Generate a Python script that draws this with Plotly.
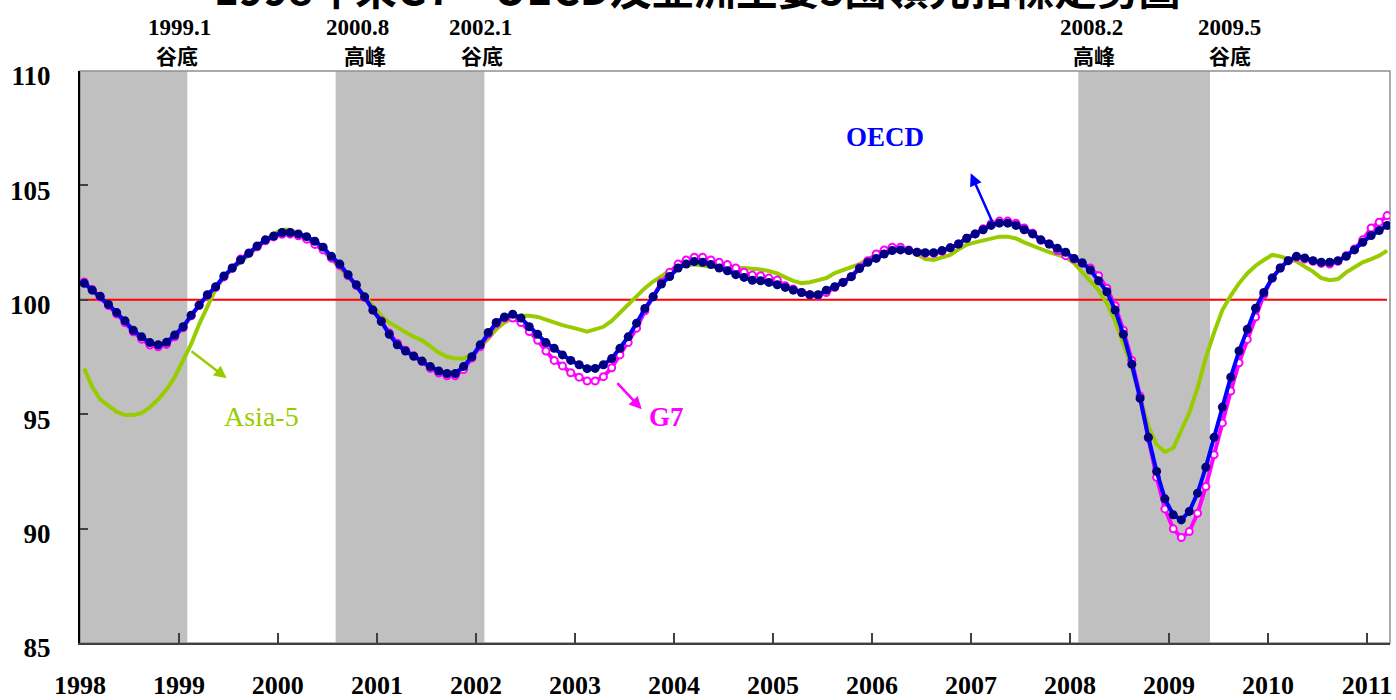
import pandas as pd
import plotly.graph_objects as go

# ---------------- data ----------------
months = pd.date_range("1998-01-01", "2011-03-01", freq="MS")

oecd = [
    100.72, 100.42, 100.16, 99.80, 99.44, 99.08, 98.67, 98.38, 98.13, 98.03, 98.14, 98.46,
    98.82, 99.33, 99.77, 100.22, 100.57, 101.04, 101.39, 101.74, 102.03, 102.35, 102.62, 102.79,
    102.94, 102.94, 102.88, 102.76, 102.56, 102.30, 101.90, 101.56, 101.10, 100.66, 100.13, 99.55,
    99.05, 98.49, 98.03, 97.76, 97.53, 97.32, 97.08, 96.89, 96.78, 96.78, 97.08, 97.51,
    98.03, 98.57, 99.01, 99.25, 99.37, 99.20, 98.82, 98.49, 98.13, 97.88, 97.59, 97.35,
    97.16, 96.99, 97.00, 97.16, 97.43, 97.88, 98.38, 98.98, 99.62, 100.13, 100.69, 101.02,
    101.39, 101.56, 101.67, 101.64, 101.54, 101.39, 101.27, 101.10, 100.98, 100.85, 100.83, 100.76,
    100.66, 100.54, 100.42, 100.32, 100.22, 100.22, 100.42, 100.57, 100.76, 101.01, 101.37, 101.64,
    101.81, 102.00, 102.15, 102.18, 102.15, 102.08, 102.06, 102.06, 102.15, 102.27, 102.44, 102.69,
    102.88, 103.06, 103.25, 103.35, 103.35, 103.25, 103.06, 102.88, 102.62, 102.44, 102.25, 102.08,
    101.81, 101.62, 101.30, 100.83, 100.35, 99.55, 98.49, 97.18, 95.69, 93.99, 92.50, 91.30,
    90.60, 90.38, 90.75, 91.55, 92.68, 93.99, 95.31, 96.62, 97.76, 98.71, 99.63, 100.32,
    100.95, 101.39, 101.71, 101.90, 101.83, 101.71, 101.64, 101.64, 101.71, 101.90, 102.18, 102.51,
    102.81, 103.03, 103.25,
]

g7 = [
    100.78, 100.45, 100.12, 99.75, 99.38, 99.00, 98.60, 98.28, 98.02, 97.95, 98.05, 98.38,
    98.78, 99.30, 99.75, 100.20, 100.55, 101.00, 101.38, 101.78, 102.05, 102.32, 102.58, 102.75,
    102.86, 102.87, 102.80, 102.65, 102.42, 102.18, 101.82, 101.50, 101.05, 100.62, 100.10, 99.55,
    99.08, 98.55, 98.10, 97.80, 97.55, 97.30, 97.00, 96.80, 96.68, 96.68, 96.95, 97.45,
    97.95, 98.50, 98.95, 99.20, 99.20, 99.01, 98.61, 98.23, 97.76, 97.35, 97.11, 96.81,
    96.62, 96.45, 96.45, 96.64, 97.03, 97.59, 98.13, 98.76, 99.52, 100.13, 100.76, 101.20,
    101.56, 101.74, 101.86, 101.86, 101.74, 101.64, 101.54, 101.39, 101.20, 101.08, 101.05, 100.95,
    100.86, 100.61, 100.47, 100.32, 100.22, 100.18, 100.32, 100.54, 100.76, 101.01, 101.42, 101.71,
    102.00, 102.18, 102.30, 102.30, 102.18, 102.08, 102.03, 102.03, 102.12, 102.27, 102.44, 102.69,
    102.88, 103.10, 103.32, 103.44, 103.44, 103.35, 103.14, 102.91, 102.60, 102.44, 102.15, 101.93,
    101.78, 101.59, 101.39, 101.05, 100.51, 99.74, 98.67, 97.35, 95.79, 93.96, 92.24, 90.86,
    89.99, 89.61, 89.87, 90.67, 91.84, 93.23, 94.62, 96.01, 97.25, 98.27, 99.25, 100.22,
    100.95, 101.39, 101.71, 101.86, 101.78, 101.68, 101.59, 101.56, 101.68, 101.93, 102.22, 102.62,
    103.14, 103.39, 103.68,
]

asia5 = [
    97.00, 96.20, 95.65, 95.35, 95.10, 94.96, 94.96, 95.05, 95.31, 95.65, 96.08, 96.62,
    97.32, 98.06, 98.93, 99.74, 100.47, 100.98, 101.35, 101.64, 101.96, 102.30, 102.60, 102.88,
    103.06, 103.06, 102.90, 102.70, 102.45, 102.15, 101.78, 101.42, 101.01, 100.61, 100.18, 99.74,
    99.30, 99.00, 98.79, 98.57, 98.38, 98.23, 97.98, 97.69, 97.51, 97.43, 97.43, 97.59,
    97.91, 98.30, 98.71, 99.01, 99.20, 99.30, 99.30, 99.25, 99.15, 99.01, 98.89, 98.82,
    98.71, 98.61, 98.71, 98.82, 99.08, 99.44, 99.81, 100.18, 100.51, 100.80, 101.05, 101.27,
    101.42, 101.52, 101.54, 101.52, 101.46, 101.42, 101.39, 101.39, 101.39, 101.37, 101.32, 101.26,
    101.15, 100.98, 100.83, 100.73, 100.77, 100.86, 100.95, 101.17, 101.30, 101.42, 101.56, 101.78,
    101.93, 102.06, 102.15, 102.15, 102.12, 102.00, 101.78, 101.74, 101.83, 101.96, 102.21, 102.41,
    102.51, 102.60, 102.70, 102.76, 102.76, 102.68, 102.51, 102.34, 102.22, 102.08, 101.96, 101.86,
    101.60, 101.20, 100.86, 100.42, 99.84, 99.08, 98.06, 97.03, 95.76, 94.47, 93.67, 93.35,
    93.52, 94.33, 95.06, 96.15, 97.47, 98.57, 99.55, 100.18, 100.72, 101.15, 101.49, 101.74,
    101.96, 101.90, 101.78, 101.68, 101.45, 101.23, 100.95, 100.86, 100.91, 101.20, 101.42, 101.64,
    101.78, 101.93, 102.15,
]

years = list(range(1998, 2012))
year_labels = [str(y) for y in years]

# shaded cycle phases (start, end) and top labels
phases = [("1998-01-01", "1999-02-01"), ("2000-08-01", "2002-02-01"), ("2008-02-01", "2009-06-01")]
turn_dates = ["1999.1", "2000.8", "2002.1", "2008.2", "2009.5"]
turn_kinds = ["谷底", "高峰", "谷底", "高峰", "谷底"]

title_text = "1998年來G7、OECD及亞洲主要5國領先指標走勢圖"

# ---------------- layout helpers ----------------
W, H = 1396, 700
L, R, T, B = 80, 1390, 71, 643


def px(x):
    return (x - L) / (R - L)


def py(y):
    return (B - y) / (B - T)


ASIA_C = "#99CC00"
G7_C = "#FF00FF"
OECD_C = "#0000FF"
OECD_M = "#000080"
SERIF = "Liberation Serif"
CJK = "Noto Sans CJK TC"

fig = go.Figure()

fig.add_trace(go.Scatter(
    x=months, y=asia5, mode="lines", name="Asia-5",
    xperiod="M1", xperiodalignment="middle",
    line=dict(color=ASIA_C, width=4),
))
fig.add_trace(go.Scatter(
    x=months, y=g7, mode="lines+markers", name="G7",
    xperiod="M1", xperiodalignment="middle",
    line=dict(color=G7_C, width=4),
    marker=dict(symbol="circle", size=7, color="white", line=dict(color=G7_C, width=2)),
))
fig.add_trace(go.Scatter(
    x=months, y=oecd, mode="lines+markers", name="OECD",
    xperiod="M1", xperiodalignment="middle",
    line=dict(color=OECD_C, width=4),
    marker=dict(symbol="circle", size=9, color=OECD_M),
))

shapes = []
for s, e in phases:
    shapes.append(dict(type="rect", xref="x", yref="paper", x0=s, x1=e, y0=0, y1=1,
                       fillcolor="#C0C0C0", line=dict(width=0), layer="below"))
shapes.append(dict(type="line", xref="x", yref="y", x0="1998-01-01", x1="2011-03-16", y0=100, y1=100,
                   line=dict(color="#FF0000", width=2), layer="below"))
shapes.append(dict(type="rect", xref="paper", yref="paper", x0=0, x1=1, y0=0, y1=1,
                   line=dict(color="#909090", width=1.5), fillcolor="rgba(0,0,0,0)", layer="below"))

annotations = []
# title (mostly cut off at top)
annotations.append(dict(text=title_text, xref="paper", yref="paper", x=px(697), y=py(-14),
                        xanchor="center", yanchor="middle", showarrow=False,
                        font=dict(family=CJK, size=42, color="black", weight="bold")))
# turning point labels
num_x = [179, 357.5, 480, 1091, 1229]
kind_x = [177, 365, 482, 1094, 1230]
for d, k, nx, kx in zip(turn_dates, turn_kinds, num_x, kind_x):
    annotations.append(dict(text=d, xref="paper", yref="paper", x=px(nx), y=py(27.5),
                            xanchor="center", yanchor="middle", showarrow=False,
                            font=dict(family=SERIF, size=23, color="black", weight="bold")))
    annotations.append(dict(text=k, xref="paper", yref="paper", x=px(kx), y=py(54.5),
                            xanchor="center", yanchor="middle", showarrow=False,
                            font=dict(family=CJK, size=21, color="black", weight="bold")))

# series labels
annotations.append(dict(text="Asia-5", xref="paper", yref="paper", x=px(261), y=py(416),
                        xanchor="center", yanchor="middle", showarrow=False,
                        font=dict(family=SERIF, size=28, color=ASIA_C)))
annotations.append(dict(text="G7", xref="paper", yref="paper", x=px(666), y=py(417),
                        xanchor="center", yanchor="middle", showarrow=False,
                        font=dict(family=SERIF, size=27, color=G7_C, weight="bold")))
annotations.append(dict(text="OECD", xref="paper", yref="paper", x=px(885), y=py(137),
                        xanchor="center", yanchor="middle", showarrow=False,
                        font=dict(family=SERIF, size=27, color=OECD_C, weight="bold")))

# arrows (head, tail) in pixels
arrows = [((226.7, 378.3), (190, 350), ASIA_C),
          ((641.7, 409.3), (616, 381.7), G7_C),
          ((970.7, 173.3), (992.7, 222.7), OECD_C)]
for (hx, hy), (tx, ty), c in arrows:
    annotations.append(dict(text="", xref="paper", yref="paper", x=px(hx), y=py(hy),
                            ax=tx - hx, ay=ty - hy, showarrow=True, arrowhead=2,
                            arrowsize=1, arrowwidth=2.5, arrowcolor=c))

fig.update_layout(
    width=W, height=H,
    margin=dict(l=L, r=W - R, t=T, b=H - B, pad=0),
    paper_bgcolor="white", plot_bgcolor="white",
    showlegend=False,
    shapes=shapes, annotations=annotations,
    xaxis=dict(
        type="date", range=["1998-01-01", "2011-03-27"],
        tickvals=[f"{y}-01-01" for y in years], ticktext=year_labels,
        ticks="inside", ticklen=10, tickwidth=1.5, tickcolor="#404040",
        showline=True, linecolor="#404040", linewidth=2,
        showgrid=False, zeroline=False, automargin=False,
        ticklabelstandoff=18,
        tickfont=dict(family=SERIF, size=26, color="black", weight="bold"),
    ),
    yaxis=dict(
        range=[85, 110], tickvals=[85, 90, 95, 100, 105, 110],
        ticks="inside", ticklen=8, tickwidth=1.5, tickcolor="#404040",
        showline=True, linecolor="black", linewidth=2,
        showgrid=False, zeroline=False, automargin=False,
        ticklabelstandoff=22, ticklabelshift=5,
        tickfont=dict(family=SERIF, size=27, color="black", weight="bold"),
    ),
)

fig.write_html(
    "out.html",
    config={"displayModeBar": False},
    post_script="document.body.style.margin='0px';document.body.style.overflow='hidden';",
)
